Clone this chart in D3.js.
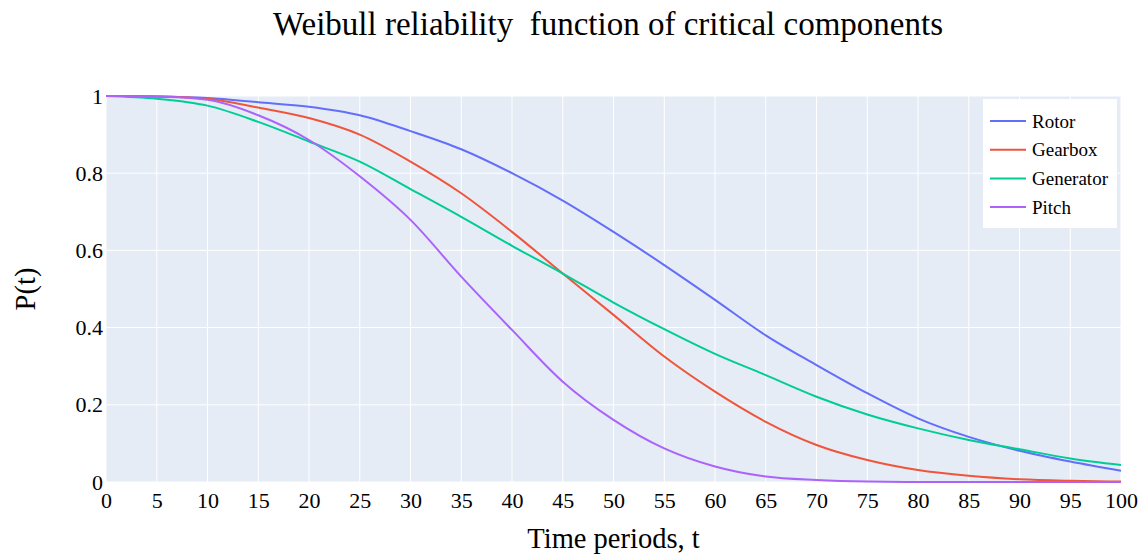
<!DOCTYPE html>
<html lang="en">
<head>
    <meta charset="UTF-8">
    <title>Weibull reliability</title>
    <script src="https://d3js.org/d3.v7.min.js"></script>
    <style>
        body { margin: 0; background: #fff; }
        text { font-family: "Liberation Serif", "Times New Roman", serif; fill: #000; }
    </style>
</head>
<body>
<svg id="chart" width="1143" height="558"></svg>

<script>
    // Time points and reliability values.
    const times = [0, 5, 10, 15, 20, 25, 30, 35, 40, 45, 50, 55, 60, 65, 70, 75, 80, 85, 90, 95, 100];
    const rotor = [1, 0.999, 0.995, 0.984, 0.972, 0.95, 0.909, 0.862, 0.8, 0.729, 0.648, 0.562, 0.472, 0.38, 0.303, 0.23, 0.165, 0.117, 0.081, 0.053, 0.029];
    const gearbox = [1, 0.999, 0.993, 0.97, 0.943, 0.9, 0.83, 0.748, 0.648, 0.54, 0.433, 0.325, 0.234, 0.156, 0.096, 0.057, 0.031, 0.016, 0.007, 0.003, 0.001];
    const generator = [1, 0.993, 0.975, 0.933, 0.882, 0.83, 0.759, 0.687, 0.612, 0.54, 0.465, 0.396, 0.332, 0.277, 0.221, 0.175, 0.139, 0.109, 0.085, 0.061, 0.044];
    const pitch = [1, 0.999, 0.99, 0.95, 0.886, 0.792, 0.679, 0.532, 0.394, 0.26, 0.161, 0.087, 0.04, 0.014, 0.005, 0.001, 0, 0, 0, 0, 0];

    const seriesNames = ["Rotor", "Gearbox", "Generator", "Pitch"];
    const seriesValues = [rotor, gearbox, generator, pitch];
    const seriesColors = ["#636efa", "#ef553b", "#00cc96", "#ab63fa"];

    const xTicks = d3.range(0, 101, 5);
    const yTicks = [0, 0.2, 0.4, 0.6, 0.8, 1];

    const width = 1143, height = 558;
    const margin = {top: 96, right: 22, bottom: 76, left: 106};

    const svg = d3.select("#chart");

    const x = d3.scaleLinear().domain([0, 100]).range([margin.left, width - margin.right]);
    const y = d3.scaleLinear().domain([0, 1]).range([height - margin.bottom, margin.top]);

    // Plot background
    svg.append("rect")
        .attr("x", margin.left)
        .attr("y", margin.top)
        .attr("width", width - margin.left - margin.right)
        .attr("height", height - margin.top - margin.bottom)
        .attr("fill", "#e5ecf6");

    // Grid lines
    svg.append("g")
        .selectAll("line")
        .data(xTicks)
        .enter().append("line")
        .attr("x1", d => x(d)).attr("x2", d => x(d))
        .attr("y1", margin.top).attr("y2", height - margin.bottom)
        .attr("stroke", "#fff").attr("stroke-width", 1);

    svg.append("g")
        .selectAll("line")
        .data(yTicks)
        .enter().append("line")
        .attr("x1", margin.left).attr("x2", width - margin.right)
        .attr("y1", d => y(d)).attr("y2", d => y(d))
        .attr("stroke", "#fff").attr("stroke-width", 1);

    // Axes (labels only, no domain lines)
    const xAxis = svg.append("g")
        .attr("transform", `translate(0,${height - margin.bottom})`)
        .call(d3.axisBottom(x).tickValues(xTicks).tickSize(0).tickPadding(10));
    const yAxis = svg.append("g")
        .attr("transform", `translate(${margin.left},0)`)
        .call(d3.axisLeft(y).tickValues(yTicks).tickFormat(d3.format("")).tickSize(0).tickPadding(3));
    [xAxis, yAxis].forEach(a => {
        a.select(".domain").remove();
        a.selectAll("text")
            .attr("font-size", 22)
            .attr("fill", "#000");
    });

    // Lines
    const line = d3.line()
        .x((d, i) => x(times[i]))
        .y(d => y(d))
        .curve(d3.curveMonotoneX);

    svg.append("g")
        .selectAll("path")
        .data(seriesValues)
        .enter().append("path")
        .attr("d", line)
        .attr("fill", "none")
        .attr("stroke", (d, i) => seriesColors[i])
        .attr("stroke-width", 2);

    // Title and axis titles
    svg.append("text")
        .attr("x", 608).attr("y", 35)
        .attr("text-anchor", "middle")
        .attr("font-size", 33)
        .style("white-space", "pre")
        .text("Weibull reliability  function of critical components");

    svg.append("text")
        .attr("x", (margin.left + width - margin.right) / 2).attr("y", 548)
        .attr("text-anchor", "middle")
        .attr("font-size", 28.5)
        .text("Time periods, t");

    svg.append("text")
        .attr("transform", `translate(35,${(margin.top + height - margin.bottom) / 2}) rotate(-90)`)
        .attr("text-anchor", "middle")
        .attr("font-size", 28.5)
        .text("P(t)");

    // Legend
    const legend = svg.append("g").attr("transform", "translate(983,99)");
    legend.append("rect")
        .attr("width", 134).attr("height", 129)
        .attr("fill", "#fff");
    const items = legend.selectAll("g.item")
        .data(seriesNames)
        .enter().append("g")
        .attr("class", "item")
        .attr("transform", (d, i) => `translate(0,${22 + i * 28.7})`);
    items.append("line")
        .attr("x1", 7).attr("x2", 43)
        .attr("stroke", (d, i) => seriesColors[i])
        .attr("stroke-width", 2);
    items.append("text")
        .attr("x", 49).attr("y", 6.5)
        .attr("font-size", 19)
        .text(d => d);
</script>
</body>
</html>
